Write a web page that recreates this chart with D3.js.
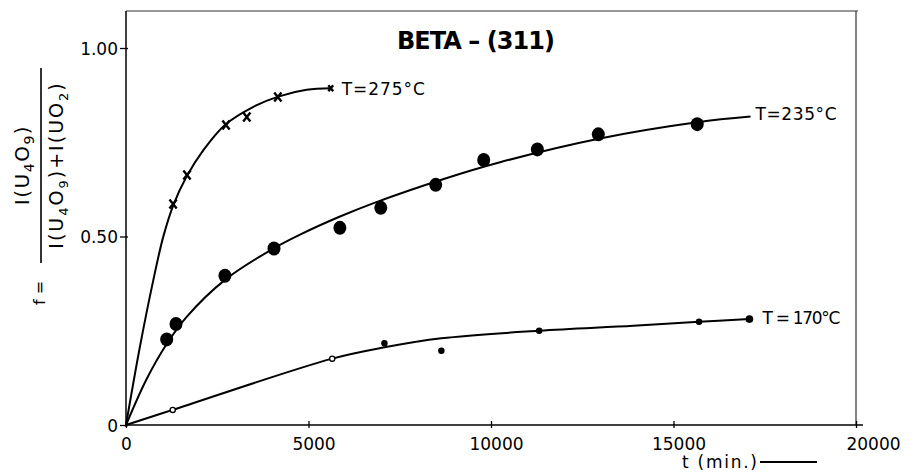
<!DOCTYPE html>
<meta charset="utf-8">
<style>
body {
    margin: 0px;
    background: white;
    font-family: "DejaVu Sans", sans-serif;
}
.tick text {
  font-size: 17px;
  font-family: "DejaVu Sans", sans-serif;
  fill: black;
}
.label {
  font-size: 17px;
  fill: black;
}
</style>
<body>
<script src="https://d3js.org/d3.v7.min.js"></script>
<script>
var width = 914,
    height = 476

// T = 275 C  (x markers)
var t275 = [1290, 1670, 2740, 3310, 4160, 5610]
var f275 = [0.586, 0.663, 0.796, 0.817, 0.870, 0.893]
var curveT275 = [0, 380, 750, 1020, 1300, 1660, 2120, 2710, 3490, 4170, 4950, 5610]
var curveF275 = [0, 0.207, 0.385, 0.499, 0.584, 0.659, 0.729, 0.796, 0.844, 0.871, 0.889, 0.893]

// T = 235 C  (big dots)
var t235 = [1115, 1370, 2710, 4055, 5860, 6980, 8485, 9800, 11270, 12940, 15650]
var f235 = [0.227, 0.268, 0.396, 0.468, 0.523, 0.576, 0.637, 0.703, 0.731, 0.771, 0.798]
var curveT235 = [0, 566, 1114, 1662, 2712, 4036, 4767, 5863, 6767, 8685, 10247, 12986, 15650, 17110]
var curveF235 = [0, 0.122, 0.215, 0.287, 0.385, 0.468, 0.505, 0.553, 0.588, 0.652, 0.697, 0.760, 0.803, 0.818]

// T = 170 C  (small dots)
var t170 = [1280, 5650, 7080, 8640, 11320, 15700, 17080]
var f170 = [0.040, 0.176, 0.217, 0.197, 0.250, 0.274, 0.281]
var open170 = [true, true, false, false, false, false, false]
var curveT170 = [0, 1280, 5650, 7080, 8640, 11320, 13900, 15700, 17080]
var curveF170 = [0, 0.040, 0.176, 0.206, 0.230, 0.250, 0.263, 0.274, 0.281]

var xTicks = [0, 5000, 10000, 15000, 20000]
var yTicks = [0, 0.5, 1.0]
var yTickLabels = ["0", "0.50", "1.00"]

var x = d3.scaleLinear().domain([0, 20000]).range([126, 856])
var y = d3.scaleLinear().domain([0, 1]).range([425, 48])

var svg = d3.select("body").append("svg")
    .attr("width", width)
    .attr("height", height)

// frame
svg.append("path")
    .attr("d", "M126,11H858M856,11V425")
    .attr("fill", "none")
    .attr("stroke", "#333")
    .attr("stroke-width", 1.2)

// x axis
var xAxis = svg.append("g")
    .attr("transform", "translate(0," + y(0) + ")")
    .call(d3.axisBottom(x).tickValues(xTicks).tickFormat(d3.format("d")).tickSizeOuter(0).tickSizeInner(3).tickPadding(6))
xAxis.select(".domain").attr("d", "M126,0H863").attr("stroke-width", 1.5)
xAxis.selectAll(".tick line").attr("y1", -4).attr("y2", 3).attr("stroke-width", 1.3)
xAxis.selectAll(".tick text")
    .attr("dx", function(d) { return d === 20000 ? 17 : (d === 0 ? 0 : 5) })
    .attr("dy", "0.95em")

// y axis
var yAxis = svg.append("g")
    .attr("transform", "translate(" + x(0) + ",0)")
    .call(d3.axisLeft(y).tickValues(yTicks).tickFormat(function(d, i) { return yTickLabels[i] }).tickSizeOuter(0).tickSizeInner(5).tickPadding(3))
yAxis.select(".domain").attr("d", "M0,11V427").attr("stroke-width", 1.5)
yAxis.selectAll(".tick line").attr("x1", -6).attr("x2", 2).attr("stroke-width", 1.3)
yAxis.selectAll(".tick text").attr("dy", "0.36em")

// curves
var line = d3.line()
    .x(function(d) { return x(d[0]) })
    .y(function(d) { return y(d[1]) })
    .curve(d3.curveCatmullRom.alpha(0.5))

function drawCurve(ts, fs) {
  svg.append("path")
      .datum(d3.zip(ts, fs))
      .attr("d", line)
      .attr("fill", "none")
      .attr("stroke", "black")
      .attr("stroke-width", 2)
}
drawCurve(curveT275, curveF275)
drawCurve(curveT235, curveF235)
drawCurve(curveT170, curveF170)

// 275 markers: crosses
svg.selectAll(".m275")
    .data(d3.zip(t275, f275))
    .enter()
    .append("path")
    .attr("class", "m275")
    .attr("d", function(d, i) {
        var s = i === t275.length - 1 ? 3 : 4.5
        var cx = x(d[0]), cy = y(d[1])
        return "M" + (cx - s * 0.8) + "," + (cy - s) + "L" + (cx + s * 0.8) + "," + (cy + s) +
               "M" + (cx + s * 0.8) + "," + (cy - s) + "L" + (cx - s * 0.8) + "," + (cy + s)
    })
    .attr("stroke", "black")
    .attr("stroke-width", 2.4)
    .attr("fill", "none")

// 235 markers: big dots
svg.selectAll(".m235")
    .data(d3.zip(t235, f235))
    .enter()
    .append("ellipse")
    .attr("cx", function(d) { return x(d[0]) })
    .attr("cy", function(d) { return y(d[1]) })
    .attr("rx", 6.5)
    .attr("ry", 7)
    .attr("fill", "black")

// 170 markers: small dots
svg.selectAll(".m170")
    .data(d3.zip(t170, f170, open170))
    .enter()
    .append("circle")
    .attr("cx", function(d) { return x(d[0]) })
    .attr("cy", function(d) { return y(d[1]) })
    .attr("r", function(d, i) { return i === t170.length - 1 ? 3.2 : 2.6 })
    .attr("fill", function(d) { return d[2] ? "white" : "black" })
    .attr("stroke", "black")
    .attr("stroke-width", 1.3)

// curve labels
svg.append("text").attr("class", "label")
    .attr("x", x(5610) + 11).attr("y", y(0.893) + 7)
    .attr("textLength", 83)
    .text("T=275°C")
svg.append("text").attr("class", "label")
    .attr("x", x(17110) + 5).attr("y", y(0.818) + 3)
    .attr("textLength", 81)
    .text("T=235°C")
svg.append("text").attr("class", "label")
    .attr("x", x(17080) + 13).attr("y", y(0.281) + 5)
    .attr("textLength", 78)
    .text("T = 170°C")

// title
svg.append("text")
    .attr("x", 397).attr("y", 49)
    .attr("textLength", 158)
    .style("font-size", "24px")
    .style("font-weight", "bold")
    .text("BETA – (311)")

// x label
svg.append("text").attr("class", "label")
    .attr("x", 682).attr("y", 468)
    .attr("textLength", 75)
    .text("t (min.)")
svg.append("line")
    .attr("x1", 760).attr("x2", 817)
    .attr("y1", 462).attr("y2", 462)
    .attr("stroke", "black")
    .attr("stroke-width", 2)

// y label, fraction rotated
var yl = svg.append("g")
    .attr("transform", "translate(41,165) rotate(-90)")

var num = yl.append("text")
    .attr("x", 0).attr("y", -12)
    .attr("text-anchor", "middle")
    .style("font-size", "20px")
    .style("letter-spacing", "1.5px")
num.append("tspan").text("I(U")
num.append("tspan").attr("dy", 5).style("font-size", "14px").text("4")
num.append("tspan").attr("dy", -5).text("O")
num.append("tspan").attr("dy", 5).style("font-size", "14px").text("9")
num.append("tspan").attr("dy", -5).text(")")

yl.append("line")
    .attr("x1", -98).attr("x2", 97)
    .attr("y1", 0).attr("y2", 0)
    .attr("stroke", "black")
    .attr("stroke-width", 1.6)

var den = yl.append("text")
    .attr("x", 0).attr("y", 22)
    .attr("text-anchor", "middle")
    .style("font-size", "19px")
    .style("letter-spacing", "2px")
den.append("tspan").text("I(U")
den.append("tspan").attr("dy", 5).style("font-size", "13px").text("4")
den.append("tspan").attr("dy", -5).text("O")
den.append("tspan").attr("dy", 5).style("font-size", "13px").text("9")
den.append("tspan").attr("dy", -5).text(")+I(UO")
den.append("tspan").attr("dy", 5).style("font-size", "13px").text("2")
den.append("tspan").attr("dy", -5).text(")")

yl.append("text")
    .attr("x", -128).attr("y", 4)
    .attr("text-anchor", "middle")
    .style("font-size", "16px")
    .text("f =")
</script>
